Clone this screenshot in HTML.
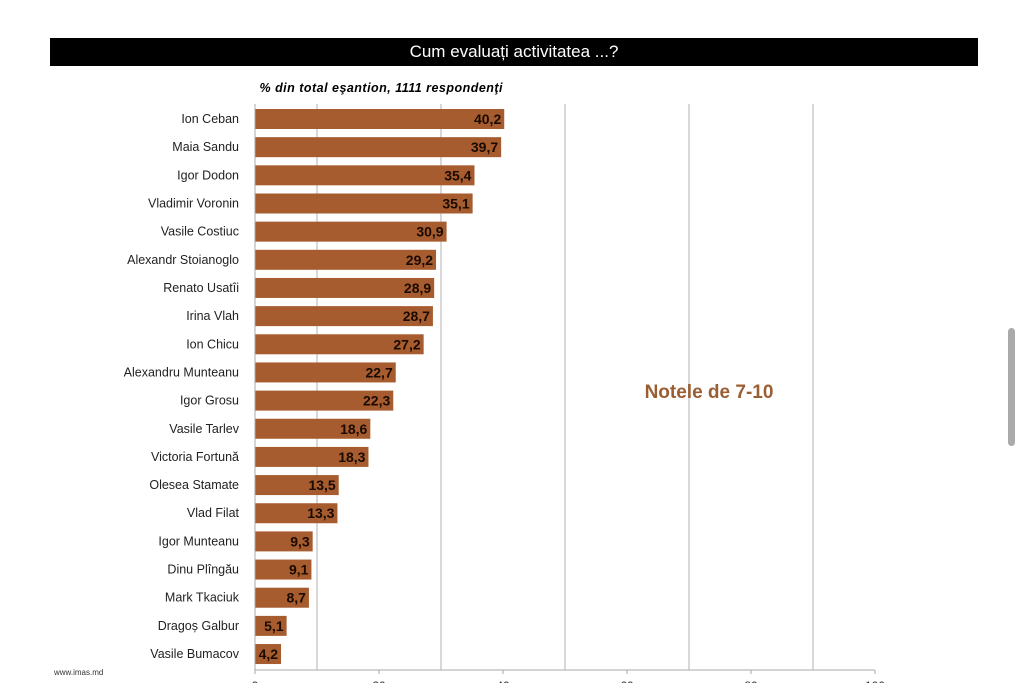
<!DOCTYPE html>
<html><head><meta charset="utf-8"><style>
body{margin:0;width:1024px;height:683px;background:#fff;overflow:hidden;position:relative;font-family:"Liberation Sans",sans-serif}
</style></head><body>
<div style="position:absolute;left:50px;top:38px;width:928px;height:28px;background:#000;color:#fff;font-size:17px;text-align:center;line-height:28px;padding-left:0px;box-sizing:border-box">Cum evaluați activitatea ...?</div>
<div style="position:absolute;left:1008px;top:328px;width:7px;height:118px;background:#aaa;border-radius:4px"></div>
<div style="position:absolute;left:54px;top:668px;font-size:8px;color:#333">www.imas.md</div>
<svg id="c" width="1024" height="683" style="position:absolute;left:0;top:0" font-family="Liberation Sans, sans-serif"></svg>
<script>
const names=["Ion Ceban","Maia Sandu","Igor Dodon","Vladimir Voronin","Vasile Costiuc","Alexandr Stoianoglo","Renato Usatîi","Irina Vlah","Ion Chicu","Alexandru Munteanu","Igor Grosu","Vasile Tarlev","Victoria Fortună","Olesea Stamate","Vlad Filat","Igor Munteanu","Dinu Plîngău","Mark Tkaciuk","Dragoș Galbur","Vasile Bumacov"];
const values=[40.2,39.7,35.4,35.1,30.9,29.2,28.9,28.7,27.2,22.7,22.3,18.6,18.3,13.5,13.3,9.3,9.1,8.7,5.1,4.2];
const ticks=[0,20,40,60,80,100];
const grid=[10,30,50,70,90];
const svg=document.getElementById('c');const NS='http://www.w3.org/2000/svg';
const x=v=>255+v*6.2;const y=i=>119+i*28.16;
function mk(t,a,txt){const e=document.createElementNS(NS,t);for(const k in a)e.setAttribute(k,a[k]);if(txt!==undefined)e.textContent=txt;svg.appendChild(e);return e;}
let e=mk('text',{x:381,y:92,'font-size':12.5,'font-style':'italic','font-weight':'bold','text-anchor':'middle',fill:'#000',textLength:243},'% din total eşantion, 1111 respondenţi');


grid.forEach(g=>{const l=mk('line',{x1:x(g),x2:x(g),y1:104,y2:670,stroke:'#ccc','stroke-width':1.5});

});
values.forEach((v,i)=>{
const r=mk('rect',{x:x(0),y:y(i)-10,width:x(v)-x(0),height:20,fill:'#a65c2e'});


const t=mk('text',{x:x(v)-3,y:y(i)+5,'font-size':14,'font-weight':'bold','text-anchor':'end',fill:'#1a0a00'},v.toFixed(1).replace('.',','));


const n=mk('text',{x:239,y:y(i)+4,'font-size':12.5,'text-anchor':'end',fill:'#222'},names[i]);

});
let ax=mk('line',{x1:255,x2:255,y1:104,y2:670,stroke:'#aaa'});


let bx=mk('line',{x1:255,x2:x(100),y1:670,y2:670,stroke:'#aaa'});


ticks.forEach(tv=>{const l=mk('line',{x1:x(tv),x2:x(tv),y1:670,y2:674,stroke:'#aaa'});


const t=mk('text',{x:x(tv),y:690,'font-size':12,'text-anchor':'middle',fill:'#333'},tv);

});
let an=mk('text',{x:709,y:398,'font-size':19,'font-weight':'bold','text-anchor':'middle',fill:'#9a5e33'},'Notele de 7-10');


</script>
</body></html>
